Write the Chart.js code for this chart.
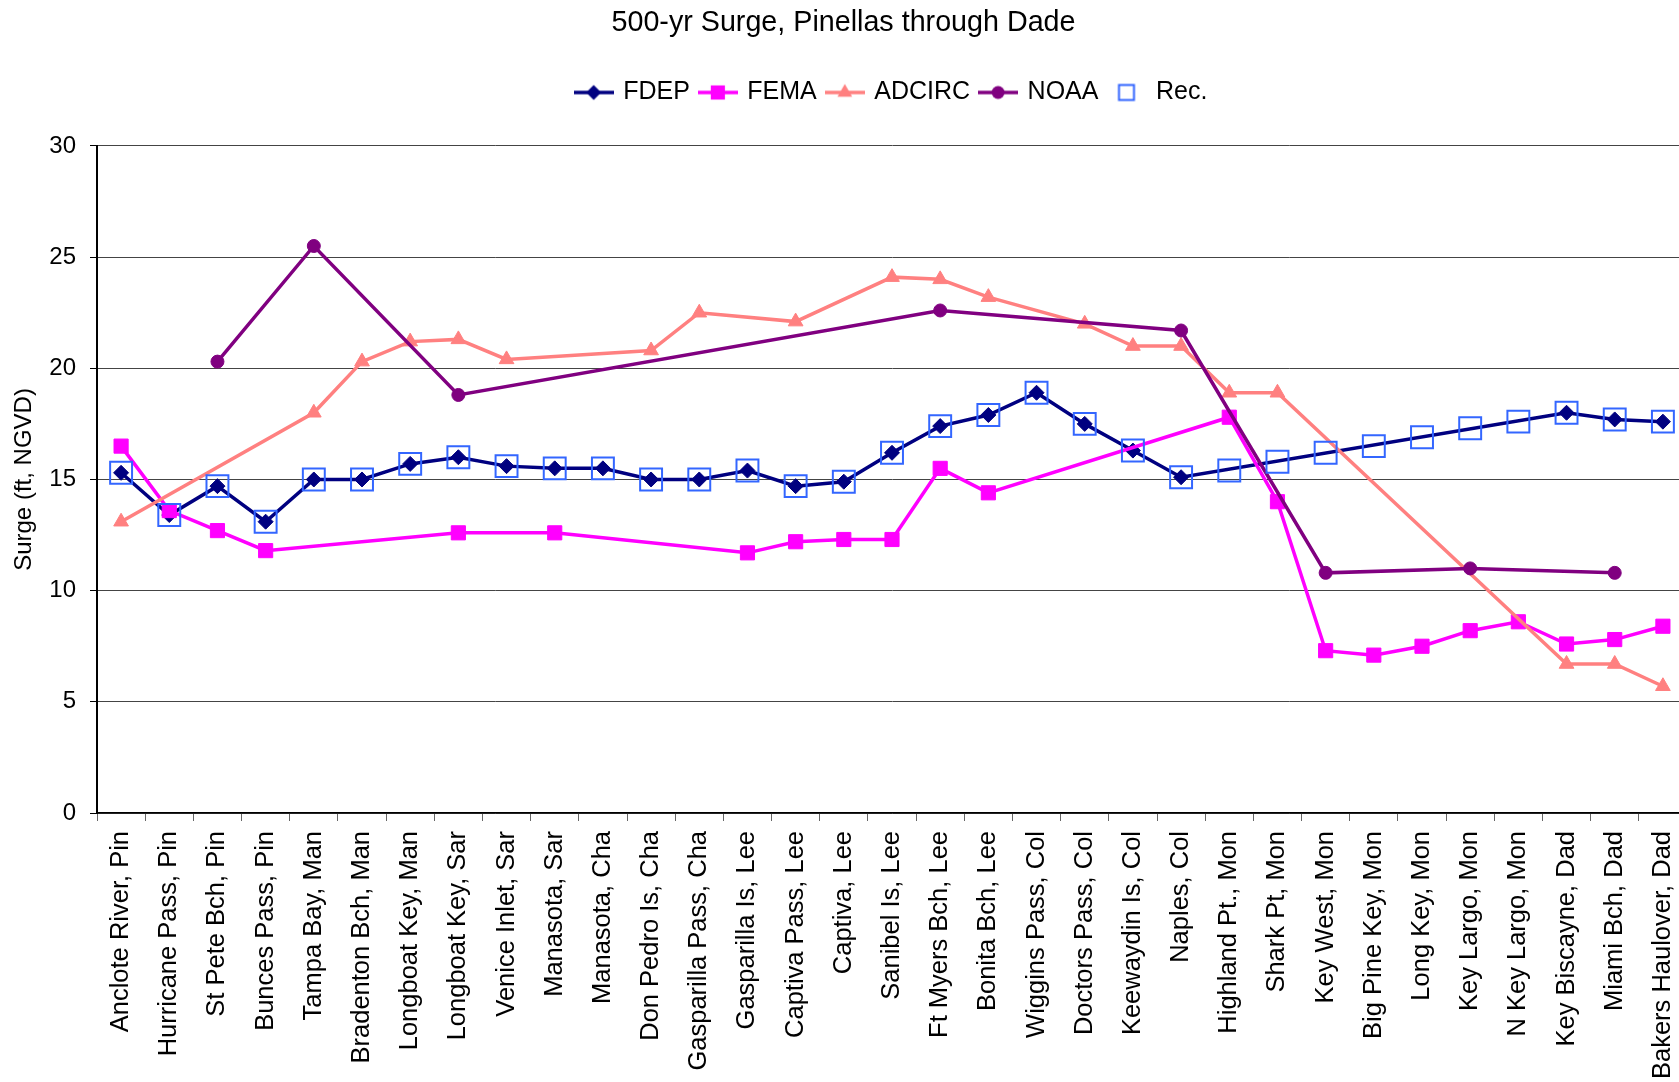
<!DOCTYPE html>
<html>
<head>
<meta charset="utf-8">
<title>500-yr Surge, Pinellas through Dade</title>
<script src="https://cdn.jsdelivr.net/npm/chart.js@4/dist/chart.umd.min.js"></script>
<style>
  html, body { margin: 0; padding: 0; background: #fff; overflow: hidden; }
  #wrap { position: relative; width: 1687px; height: 1100px; }
</style>
</head>
<body>
<div id="wrap"><canvas id="chart"></canvas></div>
<script>
// Sites along the coast, north to south
var sites = [
  'Anclote River, Pin', 'Hurricane Pass, Pin', 'St Pete Bch, Pin', 'Bunces Pass, Pin',
  'Tampa Bay, Man', 'Bradenton Bch, Man', 'Longboat Key, Man', 'Longboat Key, Sar',
  'Venice Inlet, Sar', 'Manasota, Sar', 'Manasota, Cha', 'Don Pedro Is, Cha',
  'Gasparilla Pass, Cha', 'Gasparilla Is, Lee', 'Captiva Pass, Lee', 'Captiva, Lee',
  'Sanibel Is, Lee', 'Ft Myers Bch, Lee', 'Bonita Bch, Lee', 'Wiggins Pass, Col',
  'Doctors Pass, Col', 'Keewaydin Is, Col', 'Naples, Col', 'Highland Pt., Mon',
  'Shark Pt, Mon', 'Key West, Mon', 'Big Pine Key, Mon', 'Long Key, Mon',
  'Key Largo, Mon', 'N Key Largo, Mon', 'Key Biscayne, Dad', 'Miami Bch, Dad',
  'Bakers Haulover, Dad'
];

// Surge (ft, NGVD); null = no value at that site
var fdep = [15.3, 13.4, 14.7, 13.1, 15.0, 15.0, 15.7, 16.0, 15.6, 15.5, 15.5, 15.0, 15.0, 15.4, 14.7, 14.9,
            16.2, 17.4, 17.9, 18.9, 17.5, 16.3, 15.1, null, null, null, null, null, null, null, 18.0, 17.7, 17.6];
var fema = [16.5, 13.6, 12.7, 11.8, null, null, null, 12.6, null, 12.6, null, null, null, 11.7, 12.2, 12.3,
            12.3, 15.5, 14.4, null, null, null, null, 17.8, 14.0, 7.3, 7.1, 7.5, 8.2, 8.6, 7.6, 7.8, 8.4];
var adcirc = [13.1, null, null, null, 18.0, 20.3, 21.2, 21.3, 20.4, null, null, 20.8, 22.5, null, 22.1, null,
              24.1, 24.0, 23.2, null, 22.0, 21.0, 21.0, 18.9, 18.9, null, null, null, null, null, 6.7, 6.7, 5.7];
var noaa = [null, null, 20.3, null, 25.5, null, null, 18.8, null, null, null, null, null, null, null, null,
            null, 22.6, null, null, null, null, 21.7, null, null, 10.8, null, null, 11.0, null, null, 10.8, null];
var rec = [15.3, 13.4, 14.7, 13.1, 15.0, 15.0, 15.7, 16.0, 15.6, 15.5, 15.5, 15.0, 15.0, 15.4, 14.7, 14.9,
           16.2, 17.4, 17.9, 18.9, 17.5, 16.3, 15.1, 15.4, 15.8, 16.2, 16.5, 16.9, 17.3, 17.6, 18.0, 17.7, 17.6];
var yTicks = [0, 5, 10, 15, 20, 25, 30];

var FONT = '"Liberation Sans", Arial, sans-serif';
Chart.defaults.font.family = FONT;
Chart.defaults.color = '#000';

// marker path used for the legend icons
function markerPath(g, style, x, y, r) {
  g.beginPath();
  if (style === 'rectRot') {
    g.moveTo(x, y - r); g.lineTo(x + r, y); g.lineTo(x, y + r); g.lineTo(x - r, y); g.closePath();
  } else if (style === 'rect') {
    var s = r * Math.SQRT1_2;
    g.rect(x - s, y - s, 2 * s, 2 * s);
  } else if (style === 'triangle') {
    var a = -Math.PI / 2;
    g.moveTo(x + Math.cos(a) * r, y + Math.sin(a) * r);
    g.lineTo(x + Math.cos(a + 2.0944) * r, y + Math.sin(a + 2.0944) * r);
    g.lineTo(x + Math.cos(a + 4.1888) * r, y + Math.sin(a + 4.1888) * r);
    g.closePath();
  } else {
    g.arc(x, y, r, 0, Math.PI * 2);
  }
}

function legendIcon(ds) {
  var c = document.createElement('canvas');
  c.width = 40; c.height = 24;
  var g = c.getContext('2d');
  if (ds.showLine !== false) {
    g.strokeStyle = ds.borderColor; g.lineWidth = 3.5;
    g.beginPath(); g.moveTo(0, 12); g.lineTo(40, 12); g.stroke();
  }
  if (ds.label === 'Rec.') {
    g.strokeStyle = ds.pointBorderColor; g.lineWidth = 2;
    g.strokeRect(12.5, 4.5, 15, 15);
  } else {
    markerPath(g, ds.pointStyle, 20, 12, ds.pointRadius);
    g.fillStyle = ds.pointBackgroundColor; g.fill();
  }
  return c;
}

function series(label, data, color, style, radius, order) {
  return {
    label: label, data: data,
    borderColor: color, backgroundColor: color,
    pointBackgroundColor: color, pointBorderColor: color, pointBorderWidth: 1,
    pointStyle: style, pointRadius: radius, pointHoverRadius: radius,
    borderWidth: 3.5, spanGaps: true, tension: 0, order: order
  };
}

var datasets = [
  series('FDEP', fdep, '#000080', 'rectRot', 7.5, 5),
  series('FEMA', fema, '#FF00FF', 'rect', 10, 4),
  series('ADCIRC', adcirc, '#FF8080', 'triangle', 8.5, 3),
  series('NOAA', noaa, '#800080', 'circle', 6.5, 2),
  {
    label: 'Rec.', data: rec, showLine: false,
    borderColor: '#3366FF', backgroundColor: 'rgba(0,0,0,0)',
    pointStyle: 'rect', pointRadius: 15.5, pointHoverRadius: 15.5,
    pointBorderColor: '#3366FF', pointBackgroundColor: 'rgba(0,0,0,0)', pointBorderWidth: 2,
    order: 1
  }
];

new Chart(document.getElementById('chart'), {
  type: 'line',
  data: { labels: sites, datasets: datasets },
  options: {
    responsive: true, maintainAspectRatio: false, animation: false,
    layout: { padding: 0, autoPadding: false },
    plugins: {
      title: {
        display: true, text: '500-yr Surge, Pinellas through Dade',
        font: { size: 28.7, weight: 'normal' }, color: '#000',
        padding: { top: 6, bottom: 28.5 }
      },
      // empty spacer between legend and plot
      subtitle: { display: true, text: '', weight: 500, font: { size: 10 }, padding: { top: 19, bottom: 0 } },
      legend: {
        display: true, position: 'top', fullSize: false,
        labels: {
          usePointStyle: true, pointStyleWidth: 34, padding: 11,
          font: { size: 25 }, color: '#000',
          generateLabels: function (chart) {
            return chart.data.datasets.map(function (ds, i) {
              return { text: ds.label, datasetIndex: i, pointStyle: legendIcon(ds), fontColor: '#000', lineWidth: 0, hidden: false };
            });
          }
        }
      },
      tooltip: { enabled: false }
    },
    scales: {
      x: {
        type: 'category', offset: true,
        grid: { offset: true, drawOnChartArea: false, drawTicks: true, tickLength: 8, color: '#666' },
        border: { color: '#000', width: 1.5 },
        ticks: { autoSkip: false, minRotation: 90, maxRotation: 90, padding: 10, font: { size: 25.5 }, color: '#000' },
        afterFit: function (s) { s.height = 287; s.paddingLeft = 0; s.paddingRight = 0; }
      },
      y: {
        min: 0, max: 30,
        afterBuildTicks: function (s) { s.ticks = yTicks.map(function (v) { return { value: v }; }); },
        grid: { color: '#444', lineWidth: 1, tickLength: 7, tickColor: '#000' },
        border: { color: '#000', width: 2 },
        ticks: { padding: 14, font: { size: 24 }, color: '#000' },
        title: { display: true, text: 'Surge (ft, NGVD)', font: { size: 24 }, color: '#000', padding: { top: 9.6, bottom: 0 } },
        afterFit: function (s) { s.width = 97; }
      }
    }
  }
});
</script>
</body>
</html>
